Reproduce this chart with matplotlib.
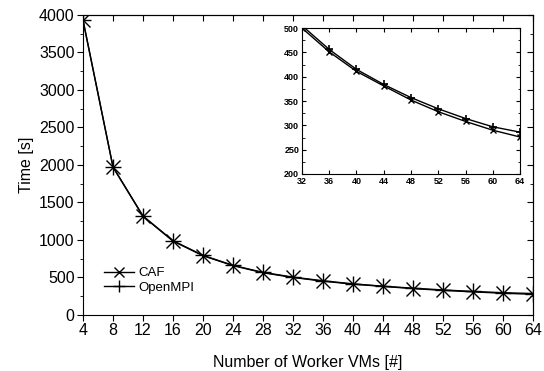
import matplotlib
matplotlib.use('Agg')
import matplotlib.pyplot as plt

plt.rcParams['font.family'] = ['Liberation Sans', 'DejaVu Sans']

# worker VMs
vms = [4, 8, 12, 16, 20, 24, 28, 32, 36, 40, 44, 48, 52, 56, 60, 64]
# runtimes in seconds
caf = [3930, 1970, 1315, 985, 790, 658, 563, 500, 451, 411, 381, 352, 328, 308, 290, 276]
openmpi = [3930, 1975, 1320, 990, 795, 662, 568, 505, 456, 415, 384, 357, 334, 314, 297, 286]

xticks = list(range(4, 65, 4))
yticks = list(range(0, 4001, 500))
yminor = list(range(250, 4000, 500))
inset_xticks = list(range(32, 65, 4))
inset_yticks = list(range(200, 501, 50))
inset_yminor = list(range(225, 500, 50))

fs = 11.5

fig = plt.figure(figsize=(5.44, 3.71), dpi=100)
ax = fig.add_axes([0.1526, 0.151, 0.827, 0.8086])

# main plot
ax.plot(vms, caf, color='black', lw=1, marker='x', ms=10, mew=1, label='CAF')
ax.plot(vms, openmpi, color='black', lw=1, marker='+', ms=12, mew=1, label='OpenMPI')
ax.set_xlim(4, 64)
ax.set_ylim(0, 4000)
ax.set_xticks(xticks)
ax.set_yticks(yticks)
ax.set_yticks(yminor, minor=True)
ax.tick_params(axis='x', direction='out', labelsize=fs, length=4, pad=2)
ax.tick_params(axis='y', which='both', direction='out', labelsize=fs, length=4, pad=2)
ax.tick_params(axis='y', which='minor', length=2.5)
ax.set_xlabel('Number of Worker VMs [#]', fontsize=fs, labelpad=12)
ax.set_ylabel('Time [s]', fontsize=fs, labelpad=4)

# inward ticks on the top and right sides
sec = ax.secondary_yaxis('right')
sec.set_yticks(yticks)
sec.set_yticks(yminor, minor=True)
sec.tick_params(which='both', direction='in', labelright=False, length=4)
sec.tick_params(which='minor', length=2.5)
top = ax.secondary_xaxis('top')
top.set_xticks(xticks)
top.tick_params(direction='in', labeltop=False, length=4)

ax.legend(loc='lower left', bbox_to_anchor=(0.02, 0.03), frameon=False,
          fontsize=9.5, handlelength=2.3, handletextpad=0.3, labelspacing=0.2,
          markerscale=0.7)

# inset zoom
ins = fig.add_axes([0.555, 0.531, 0.401, 0.3935])
ins.plot(vms, caf, color='black', lw=1, marker='x', ms=5, mew=1)
ins.plot(vms, openmpi, color='black', lw=1, marker='+', ms=6, mew=1.2)
ins.set_xlim(32, 64)
ins.set_ylim(200, 500)
ins.set_xticks(inset_xticks)
ins.set_yticks(inset_yticks)
ins.set_yticks(inset_yminor, minor=True)
ins.tick_params(which='both', direction='in', top=True, right=True, labelsize=6.5, length=3)
ins.tick_params(axis='x', pad=2.5)
ins.tick_params(axis='y', pad=2)
ins.tick_params(which='minor', length=1.8)
for lab in ins.get_xticklabels() + ins.get_yticklabels():
    lab.set_fontweight('bold')

plt.savefig('out.png', dpi=100)
